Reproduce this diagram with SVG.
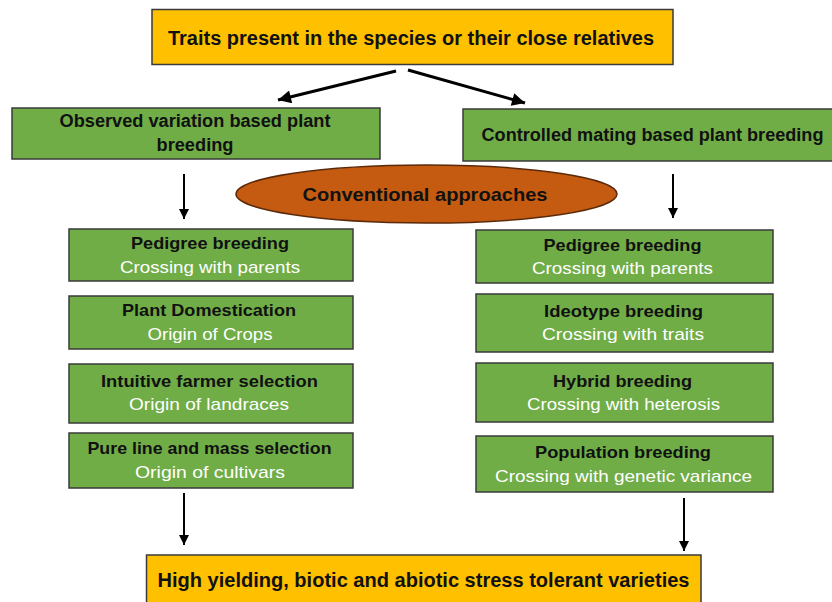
<svg xmlns="http://www.w3.org/2000/svg" width="832" height="602" viewBox="0 0 832 602">
<style>
.box{stroke:#3a3a3a;stroke-width:1.5}
.org{fill:#FFC000}
.grn{fill:#70AD47}
.t{font-family:"Liberation Sans",Arial,sans-serif;font-weight:bold;fill:#111;text-anchor:middle}
.w{font-family:"Liberation Sans",Arial,sans-serif;fill:#fff;text-anchor:middle}
.c{stroke:#000;fill:none}
</style>
<defs>
<marker id="ah" viewBox="0 0 10 10" refX="10" refY="5" markerWidth="10" markerHeight="10" markerUnits="userSpaceOnUse" orient="auto">
<path d="M0,0 L10,5 L0,10 Z" fill="#000"/>
</marker>
<marker id="ahb" viewBox="0 0 10 10" refX="10" refY="5" markerWidth="14" markerHeight="13" markerUnits="userSpaceOnUse" orient="auto">
<path d="M0,0 L10,5 L0,10 Z" fill="#000"/>
</marker>
</defs>
<rect width="832" height="602" fill="#fff"/>
<g id="connectors">
<line class="c" x1="396" y1="71" x2="278" y2="100" stroke-width="3" marker-end="url(#ahb)"/>
<line class="c" x1="408" y1="70" x2="525" y2="103" stroke-width="3" marker-end="url(#ahb)"/>
<line class="c" x1="184" y1="174" x2="184" y2="219" stroke-width="2" marker-end="url(#ah)"/>
<line class="c" x1="673" y1="174" x2="673" y2="218" stroke-width="2" marker-end="url(#ah)"/>
<line class="c" x1="184" y1="493" x2="184" y2="545" stroke-width="2" marker-end="url(#ah)"/>
<line class="c" x1="684" y1="498" x2="684" y2="551" stroke-width="2" marker-end="url(#ah)"/>
</g>
<g id="top">
<rect class="box org" x="152" y="9.5" width="521" height="55"/>
<text class="t" x="411" y="45" font-size="20" textLength="486" lengthAdjust="spacingAndGlyphs">Traits present in the species or their close relatives</text>
</g>
<g id="observed">
<rect class="box grn" x="12" y="108" width="368" height="51"/>
<text class="t" x="195" y="127" font-size="18" textLength="271" lengthAdjust="spacingAndGlyphs">Observed variation based plant</text>
<text class="t" x="195" y="151" font-size="18" textLength="77" lengthAdjust="spacingAndGlyphs">breeding</text>
</g>
<g id="controlled">
<rect class="box grn" x="463" y="109" width="375" height="52"/>
<text class="t" x="652.5" y="141" font-size="18" textLength="342" lengthAdjust="spacingAndGlyphs">Controlled mating based plant breeding</text>
</g>
<g id="conventional">
<ellipse cx="426.5" cy="194" rx="190.5" ry="29" fill="#C55A11" stroke="#5a2a0a" stroke-width="1.5"/>
<text class="t" x="425" y="201" font-size="19" textLength="245" lengthAdjust="spacingAndGlyphs">Conventional approaches</text>
</g>
<g id="l1">
<rect class="box grn" x="69" y="229" width="284" height="52"/>
<text class="t" x="210" y="249" font-size="17" textLength="158" lengthAdjust="spacingAndGlyphs">Pedigree breeding</text>
<text class="w" x="210" y="273" font-size="17" textLength="180" lengthAdjust="spacingAndGlyphs">Crossing with parents</text>
</g>
<g id="l2">
<rect class="box grn" x="69" y="296" width="284" height="53"/>
<text class="t" x="209" y="316" font-size="17" textLength="174" lengthAdjust="spacingAndGlyphs">Plant Domestication</text>
<text class="w" x="210" y="340" font-size="17" textLength="125" lengthAdjust="spacingAndGlyphs">Origin of Crops</text>
</g>
<g id="l3">
<rect class="box grn" x="69" y="364" width="284" height="59"/>
<text class="t" x="209.5" y="387" font-size="17" textLength="217" lengthAdjust="spacingAndGlyphs">Intuitive farmer selection</text>
<text class="w" x="209" y="410" font-size="17" textLength="160" lengthAdjust="spacingAndGlyphs">Origin of landraces</text>
</g>
<g id="l4">
<rect class="box grn" x="69" y="433" width="284" height="55"/>
<text class="t" x="209.5" y="454" font-size="17" textLength="244" lengthAdjust="spacingAndGlyphs">Pure line and mass selection</text>
<text class="w" x="210" y="478" font-size="17" textLength="150" lengthAdjust="spacingAndGlyphs">Origin of cultivars</text>
</g>
<g id="r1">
<rect class="box grn" x="476" y="230" width="297" height="53"/>
<text class="t" x="622.5" y="251" font-size="17" textLength="158" lengthAdjust="spacingAndGlyphs">Pedigree breeding</text>
<text class="w" x="622.5" y="274" font-size="17" textLength="181" lengthAdjust="spacingAndGlyphs">Crossing with parents</text>
</g>
<g id="r2">
<rect class="box grn" x="476" y="294" width="297" height="58"/>
<text class="t" x="623.5" y="317" font-size="17" textLength="159" lengthAdjust="spacingAndGlyphs">Ideotype breeding</text>
<text class="w" x="623" y="340" font-size="17" textLength="162" lengthAdjust="spacingAndGlyphs">Crossing with traits</text>
</g>
<g id="r3">
<rect class="box grn" x="476" y="363" width="297" height="59"/>
<text class="t" x="622.5" y="387" font-size="17" textLength="139" lengthAdjust="spacingAndGlyphs">Hybrid breeding</text>
<text class="w" x="623.5" y="410" font-size="17" textLength="193" lengthAdjust="spacingAndGlyphs">Crossing with heterosis</text>
</g>
<g id="r4">
<rect class="box grn" x="476" y="436" width="297" height="56"/>
<text class="t" x="623" y="458" font-size="17" textLength="176" lengthAdjust="spacingAndGlyphs">Population breeding</text>
<text class="w" x="623.5" y="482" font-size="17" textLength="257" lengthAdjust="spacingAndGlyphs">Crossing with genetic variance</text>
</g>
<g id="bottom">
<rect class="box org" x="146.5" y="555" width="554.5" height="60"/>
<text class="t" x="423.5" y="587" font-size="20" textLength="532" lengthAdjust="spacingAndGlyphs">High yielding, biotic and abiotic stress tolerant varieties</text>
</g>
</svg>
